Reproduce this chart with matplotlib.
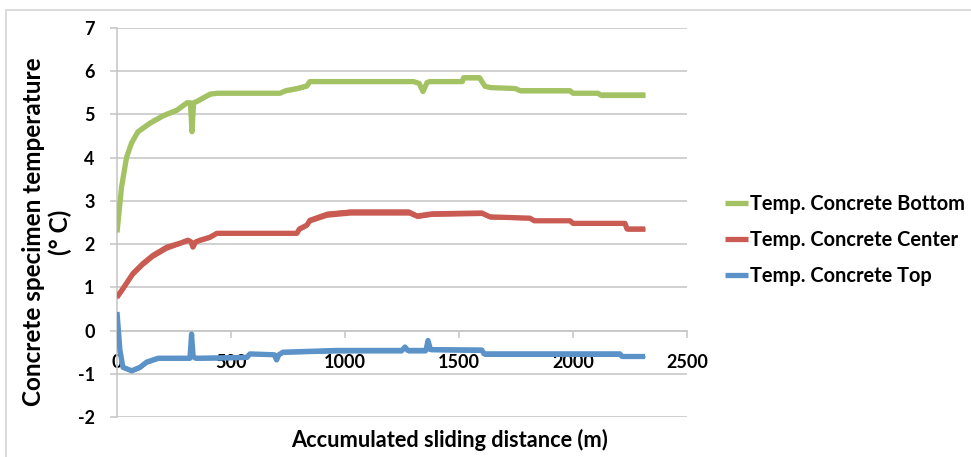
import matplotlib
matplotlib.use("Agg")
import matplotlib.pyplot as plt
from matplotlib.patches import Rectangle
import numpy as np

plt.rcParams["font.family"] = ["Lato", "DejaVu Sans"]
plt.rcParams["font.weight"] = "bold"
plt.rcParams["axes.unicode_minus"] = False

# Accumulated sliding distance (m), temperature (deg C) and scatter half-width of each trace
bottom_x = [0, 20, 42, 64, 92, 145, 202, 263, 307, 322, 329, 336, 350, 408, 440, 715, 740, 790,
            833, 846, 1300, 1325, 1342, 1360, 1373, 1515, 1520, 1590, 1614, 1640, 1746, 1768,
            1987, 2000, 2110, 2120, 2316]
bottom_y = [2.27, 3.32, 4.01, 4.34, 4.60, 4.80, 4.97, 5.10, 5.27, 5.27, 4.60, 5.27, 5.30, 5.47,
            5.49, 5.49, 5.55, 5.60, 5.66, 5.76, 5.76, 5.72, 5.53, 5.74, 5.76, 5.76, 5.85, 5.85,
            5.65, 5.62, 5.60, 5.55, 5.55, 5.49, 5.49, 5.45, 5.45]
bottom_spread = [0.0, 0.03, 0.03, 0.05, 0.05, 0.05, 0.05, 0.05, 0.05, 0.03, 0.0, 0.03, 0.05, 0.05,
                 0.02, 0.02, 0.05, 0.05, 0.05, 0.04, 0.04, 0.03, 0.03, 0.02, 0.02, 0.02, 0.05,
                 0.05, 0.04, 0.03, 0.02, 0.05, 0.05, 0.02, 0.02, 0.06, 0.06]

center_x = [0, 26, 70, 114, 158, 219, 276, 311, 325, 333, 345, 364, 408, 438, 789, 800, 833, 846,
            921, 1022, 1280, 1316, 1380, 1600, 1636, 1811, 1830, 1987, 2000, 2228, 2237, 2316]
center_y = [0.77, 0.97, 1.32, 1.55, 1.74, 1.93, 2.02, 2.09, 2.05, 1.93, 2.05, 2.09, 2.16, 2.25,
            2.25, 2.35, 2.44, 2.55, 2.69, 2.74, 2.74, 2.65, 2.70, 2.72, 2.63, 2.60, 2.54, 2.54,
            2.48, 2.48, 2.35, 2.35]
center_spread = [0.05, 0.07, 0.07, 0.07, 0.07, 0.07, 0.05, 0.05, 0.04, 0.03, 0.04, 0.05, 0.05,
                 0.04, 0.04, 0.05, 0.05, 0.06, 0.07, 0.07, 0.07, 0.06, 0.06, 0.06, 0.05, 0.04,
                 0.02, 0.02, 0.05, 0.05, 0.05, 0.05]

top_x = [0, 13, 26, 64, 101, 130, 180, 320, 327, 334, 345, 570, 583, 690, 700, 710, 728, 963,
         1250, 1263, 1275, 1355, 1364, 1375, 1600, 1610, 2206, 2215, 2316]
top_y = [0.43, -0.46, -0.85, -0.93, -0.85, -0.73, -0.64, -0.64, -0.08, -0.60, -0.64, -0.62,
         -0.54, -0.56, -0.68, -0.56, -0.50, -0.46, -0.46, -0.38, -0.46, -0.46, -0.23, -0.44,
         -0.45, -0.54, -0.54, -0.60, -0.60]
top_spread = [0.0, 0.0, 0.04, 0.05, 0.05, 0.05, 0.05, 0.05, 0.0, 0.03, 0.05, 0.05, 0.04, 0.04,
              0.0, 0.04, 0.05, 0.06, 0.06, 0.03, 0.06, 0.06, 0.0, 0.05, 0.06, 0.06, 0.06, 0.02,
              0.02]

series_names = ["Temp. Concrete Bottom", "Temp. Concrete Center", "Temp. Concrete Top"]
x_ticks = [0, 500, 1000, 1500, 2000, 2500]
x_tick_labels = ["0", "500", "1000", "1500", "2000", "2500"]
y_ticks = [-2, -1, 0, 1, 2, 3, 4, 5, 6, 7]
y_tick_labels = ["-2", "-1", "0", "1", "2", "3", "4", "5", "6", "7"]

colors = ["#a3c263", "#c95b53", "#5b93c9"]

W, H = 971, 457
fig = plt.figure(figsize=(W / 100, H / 100), dpi=100)
ax = fig.add_axes([117 / W, 1 - 417 / H, (687 - 117) / W, (417 - 28) / H])

series = [(bottom_x, bottom_y, bottom_spread),
          (center_x, center_y, center_spread),
          (top_x, top_y, top_spread)]
handles = []
for (xs, ys, sp), c, name in zip(series, colors, series_names):
    xs = np.asarray(xs, float)
    ys = np.asarray(ys, float)
    sp = np.asarray(sp, float)
    ax.fill_between(xs, ys - sp, ys + sp, color=c, lw=0, zorder=3)
    h, = ax.plot(xs, ys, color=c, lw=3.8, solid_capstyle="butt", zorder=4, label=name)
    handles.append(h)

ax.set_xlim(0, 2500)
ax.set_ylim(-2, 7)
grid_c = "#c8c8c8"
for s in ["top", "right"]:
    ax.spines[s].set_visible(False)
ax.spines["left"].set_color(grid_c)
ax.spines["bottom"].set_color(grid_c)
ax.spines["bottom"].set_position(("data", 0))
ax.spines["left"].set_linewidth(1.2)
ax.spines["bottom"].set_linewidth(1.2)

ax.set_xticks(x_ticks)
ax.set_xticklabels(x_tick_labels)
ax.set_yticks(y_ticks)
ax.set_yticklabels(y_tick_labels)
ax.tick_params(axis="x", direction="out", length=5, width=1.2, color=grid_c,
               pad=12, labelsize=13)
ax.tick_params(axis="y", direction="out", length=5, width=1.2, color=grid_c,
               pad=11, labelsize=13)
ax.yaxis.grid(True, color=grid_c, lw=1.2, zorder=0)
ax.set_axisbelow(True)

fig.text(449 / W, 1 - 440 / H, "Accumulated sliding distance (m)", ha="center", va="center",
         fontsize=15.7, fontweight="bold")
fig.text(47 / W, 1 - 232 / H, "Concrete specimen temperature\n(° C)", ha="center", va="center",
         rotation=90, fontsize=17.5, fontweight="bold", linespacing=1.2, multialignment="center")

fig.legend(handles=handles, loc="center left", bbox_to_anchor=(725 / W, 1 - 240 / H),
           frameon=False, fontsize=14.4, handlelength=1.15, handletextpad=0.1,
           labelspacing=0.8, borderpad=0, borderaxespad=0)

fig.add_artist(Rectangle((6 / W, -0.1), 2, 1.1 - 10 / H, transform=fig.transFigure,
                         fill=False, edgecolor="#d4d4d4", lw=1.2))

fig.savefig("out.png", dpi=100)
